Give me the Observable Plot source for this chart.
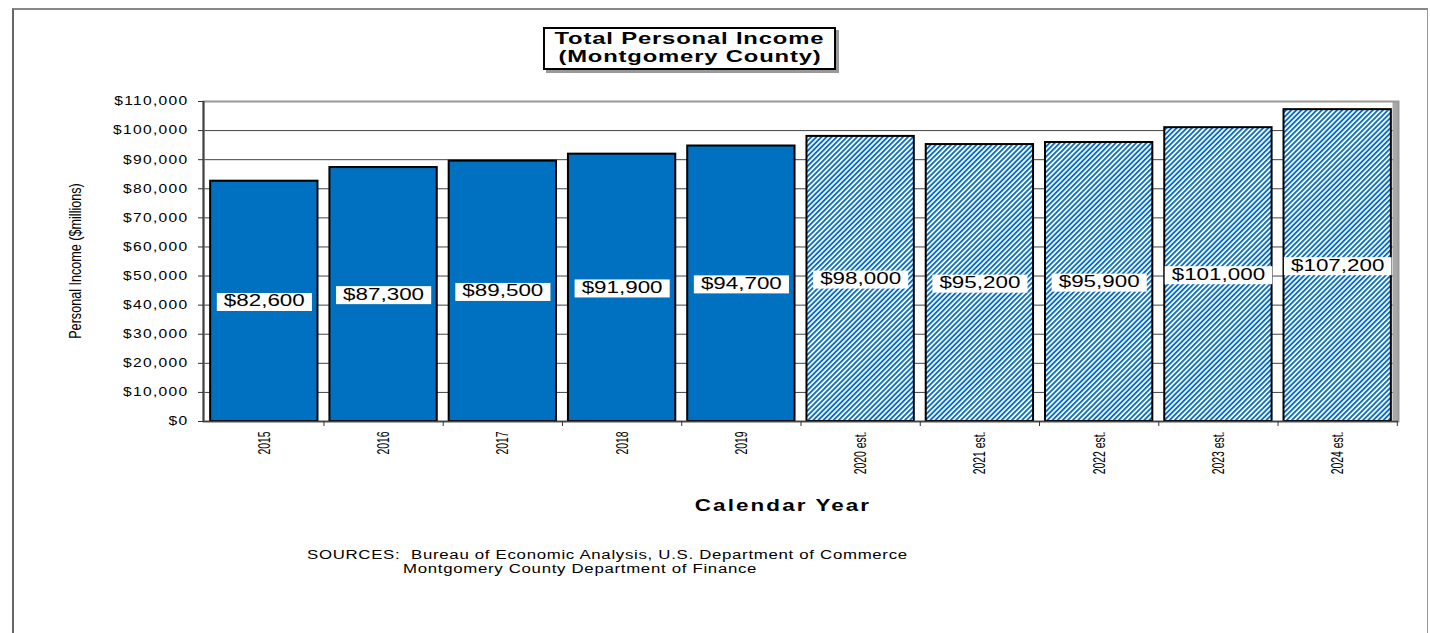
<!DOCTYPE html>
<html><head><meta charset="utf-8">
<script src="https://cdn.jsdelivr.net/npm/d3@7"></script>
<script src="https://cdn.jsdelivr.net/npm/@observablehq/plot@0.6"></script>
<style>
body{margin:0;background:#fff;}
#wrap{position:relative;width:1430px;height:633px;overflow:hidden;font-family:"Liberation Sans",Arial,sans-serif;background:#fff;}
#frame{position:absolute;left:12px;top:8px;width:1413px;height:700px;border-left:2px solid #666;border-top:2px solid #888;border-right:1px solid #999;}
#chart{position:absolute;left:0;top:0;}
#title{position:absolute;left:543px;top:27px;width:289px;height:38px;border:2px solid #000;box-shadow:3px 3px 0 #999;background:#fff;text-align:center;font-weight:bold;font-size:17px;line-height:18px;padding-top:1px;}
#title span{display:inline-block;transform:scaleX(1.4);letter-spacing:0.6px;white-space:nowrap;}
#ylabel{position:absolute;left:75px;top:261px;transform:translate(-50%,-50%) rotate(-90deg) scale(0.97,1.3);white-space:nowrap;font-size:13px;}
#xlabel{position:absolute;left:783px;top:497px;transform:translateX(-50%) scaleX(1.4);font-weight:bold;font-size:16px;letter-spacing:1.5px;white-space:nowrap;}
.src{position:absolute;font-size:12px;letter-spacing:0.5px;line-height:14px;white-space:pre;transform-origin:0 0;transform:scaleX(1.4);}
</style>
</head><body>
<div id="wrap">
  <div id="frame"></div>
  <svg width="0" height="0" style="position:absolute">
    <defs>
      <pattern id="hatch" width="3.6" height="3.6" patternUnits="userSpaceOnUse" patternTransform="rotate(45)">
        <rect width="3.6" height="3.6" fill="#ffffff"></rect>
        <rect width="1.9" height="3.6" fill="#0a6fc2"></rect>
      </pattern>
    </defs>
  </svg>
  <div id="chart"></div>
  <div id="title"><span>Total Personal Income</span><br><span>(Montgomery County)</span></div>
  <div id="ylabel">Personal Income ($millions)</div>
  <div id="xlabel">Calendar Year</div>
  <div class="src" style="left:307px;top:548px;">SOURCES:  Bureau of Economic Analysis, U.S. Department of Commerce</div>
  <div class="src" style="left:403px;top:562px;">Montgomery County Department of Finance</div>
</div>
<script>
const years = ["2015","2016","2017","2018","2019","2020 est.","2021 est.","2022 est.","2023 est.","2024 est."];
const values = [82600, 87300, 89500, 91900, 94700, 98000, 95200, 95900, 101000, 107200];
const estimated = [false,false,false,false,false,true,true,true,true,true];
const yTicks = [0,10000,20000,30000,40000,50000,60000,70000,80000,90000,100000,110000];

const data = years.map((y,i)=>({year:y, value:values[i], est:estimated[i]}));
const fmt = v => "$" + d3.format(",")(v);
const actual = data.filter(d=>!d.est);
const est = data.filter(d=>d.est);

const W = 1430, ML = 203, MR = 32, PI = 0.1, PO = 0.06;
const step = (W - ML - MR) / (years.length - PI + 2 * PO);
const half = step / 2;
const toLeftEdge = -(PO * step + (1 - PI) * step / 2);
const toRightEdge = PO * step + (1 - PI) * step / 2;

const plot = Plot.plot({
  width:W, height:633,
  marginLeft:ML, marginRight:MR, marginTop:101, marginBottom:212,
  style:{fontFamily:"'Liberation Sans', Arial, sans-serif", background:"transparent", color:"#000"},
  x:{domain:years, paddingInner:PI, paddingOuter:PO, round:false, label:null},
  y:{domain:[0,110000], label:null},
  marks:[
    Plot.gridY(yTicks,{stroke:"#444", strokeOpacity:1, strokeWidth:1}),
    Plot.ruleX(data.slice(-1),{x:"year", dx:toRightEdge - 3, y1:0, y2:110000, stroke:"#a8a8a8", strokeWidth:6}),
    Plot.frame({stroke:"#999", strokeWidth:2}),
    Plot.barY(actual,{x:"year", y:"value", fill:"#0070c0", stroke:"#000", strokeWidth:2}),
    Plot.barY(est,{x:"year", y:"value", fill:"url(#hatch)", stroke:"#000", strokeWidth:2}),
    Plot.ruleY([0],{stroke:"#444", strokeWidth:1.5}),
    Plot.ruleX(data.slice(0,1),{x:"year", dx:toLeftEdge, y1:0, y2:110000, stroke:"#444", strokeWidth:2}),
    Plot.axisY({ticks:yTicks, tickFormat:fmt, tickSize:5, tickPadding:10, fontSize:12, stroke:"#333"}),
    Plot.axisX({tickSize:5, dx:half, text:null, stroke:"#333"}),
    Plot.axisX({tickSize:0, tickRotate:-90, tickPadding:10, fontSize:13}),
    Plot.text(data,{x:"year", y:d=>d.value/2, text:d=>fmt(d.value), fontSize:16, fill:"#000", className:"vlab"})
  ]
});
document.getElementById("chart").appendChild(plot);

function stretchT(el, sx, sy, anchor, b) {
  b = b || el.getBBox();
  const ax = anchor === "end" ? b.x + b.width : anchor === "start" ? b.x : b.x + b.width / 2;
  const ay = b.y + b.height / 2;
  const t = el.getAttribute("transform") || "";
  return `${t} translate(${ax},${ay}) scale(${sx},${sy}) translate(${-ax},${-ay})`;
}

// value labels: white boxes + horizontal stretch
d3.select(plot).selectAll("g.vlab text").each(function(){
  const b = this.getBBox();
  const tr = stretchT(this, 1.4, 1, "middle", b);
  d3.select(this.parentNode).insert("rect", () => this)
    .attr("x", b.x - 5).attr("y", b.y + 0.5)
    .attr("width", b.width + 10).attr("height", b.height + 1)
    .attr("fill", "#fff").attr("transform", tr);
  this.setAttribute("transform", tr);
});
// y tick labels: wide, letter-spaced
d3.select(plot).selectAll('g[aria-label="y-axis tick label"] text').each(function(){
  this.style.letterSpacing = "1px";
  this.setAttribute("transform", stretchT(this, 1.3, 1, "end"));
});
// x tick labels: narrow along reading direction, thicker across
d3.select(plot).selectAll('g[aria-label="x-axis tick label"] text').each(function(){
  this.setAttribute("transform", stretchT(this, 0.8, 1.3, "end"));
});
</script>
</body></html>
